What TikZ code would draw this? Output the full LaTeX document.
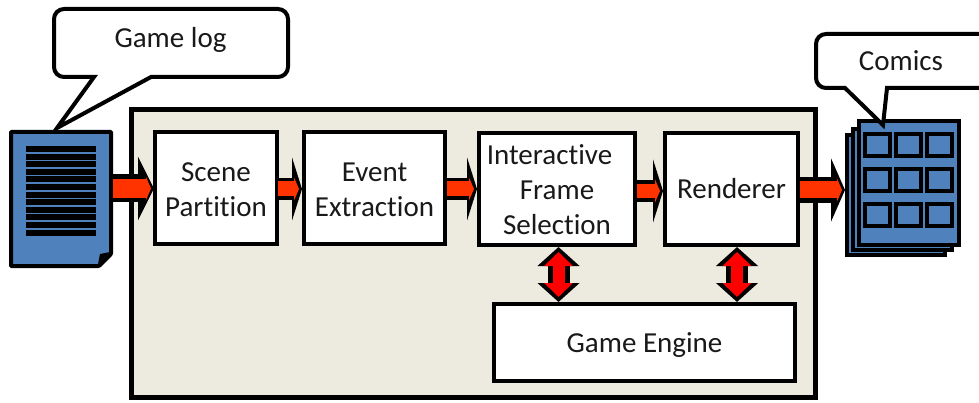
\documentclass[tikz,border=0pt]{standalone}
\usepackage{fontspec}
\setmainfont[Ligatures=NoCommon]{Carlito}
\usetikzlibrary{arrows.meta,calc}
\definecolor{panelbg}{HTML}{EDEBE0}
\definecolor{docblue}{HTML}{4F81BD}
\definecolor{arrowred}{HTML}{FF3300}
\definecolor{dblred}{HTML}{FF0000}
\tikzset{
  stagebox/.style={draw=black,fill=white,line width=4pt,rectangle,inner sep=0pt,align=center,font=\fontsize{29}{35}\selectfont,text=black!90},
  labeltext/.style={inner sep=0pt,font=\fontsize{29}{35}\selectfont,text=black!90},
  heavy/.style={draw=black,line width=4pt,line join=miter},
  fwdblack/.style 2 args={draw=black,line width=#1,-{Triangle[length=#2,width=63pt]}},
  fwdred/.style={draw=arrowred,line width=#1,-{Triangle[length=5pt,width=23pt]}},
  dblblack/.style={draw=black,line width=22pt,{Triangle[length=19pt,width=41pt]}-{Triangle[length=19pt,width=41pt]}},
  dblfill/.style={draw=dblred,line width=12pt,{Triangle[length=14pt,width=28pt]}-{Triangle[length=14pt,width=28pt]}}
}
% #1 start, #2 end, #3 black width, #4 red width, #5 head length
\newcommand{\fwdarrow}[5]{%
  \draw[fwdblack={#3pt}{#5pt}] (#1) -- (#2);
  \draw[fwdred=#4pt] (#1) -- ($(#2)+(-3pt,0)$);
}
\begin{document}
\begin{tikzpicture}[x=1pt,y=-1pt]
\useasboundingbox (0,0) rectangle (979,403);
% main panel
\node[draw=black,fill=panelbg,line width=5pt,minimum width=684pt,minimum height=288pt,inner sep=0pt] (panel) at (473.5,253.5) {};
% document
\draw[heavy,fill=docblue,rounded corners=0.8pt] (11,132) -- (111,132) -- (111,254) -- (99,266) -- (11,266) -- cycle;
\fill[black] (98,264) -- (100,254) -- (110,252) -- (100,262) -- cycle;
\foreach \i in {0,...,11} \fill[black] (26,{146+\i*7.6}) rectangle (96,{146+\i*7.6+6.1});
\node[minimum width=100pt,minimum height=134pt,inner sep=0pt] (doc) at (61,199) {};
% game log callout
\draw[heavy,fill=white] (57,128) -- (94,77) [rounded corners=10pt] -- (54,77) -- (54,9) -- (288,9) -- (288,77) [sharp corners] -- (151,77) -- cycle;
\node[labeltext] (gamelog) at (170.5,40) {Game log};
% stages
\node[stagebox,minimum width=122pt,minimum height=112pt] (scene) at (216,188) {\rule{0pt}{22pt}Scene\\Partition};
\node[stagebox,minimum width=141pt,minimum height=112pt] (event) at (374.5,188) {\rule{0pt}{22pt}Event\\Extraction};
\node[stagebox,minimum width=156pt,minimum height=112pt] (frame) at (557,189) {\rule{0pt}{22pt}Interactive\hspace*{15pt}\\Frame\\Selection};
\node[stagebox,minimum width=133pt,minimum height=112pt] (render) at (731.5,189) {Renderer};
\node[stagebox,minimum width=301pt,minimum height=77pt] (engine) at (644.5,342.5) {\rule{0pt}{24pt}Game Engine};
% comics stack
\node[draw=black,fill=docblue,line width=4pt,minimum width=98pt,minimum height=120pt,inner sep=0pt] (backpage) at (896,195) {};
\draw[heavy,fill=docblue] (853,129) rectangle (952,250);
\draw[heavy,fill=docblue] (859,121) rectangle (959,245);
\foreach \yy in {134,169,204}
  \foreach \xx in {865,896,927}
    \draw[draw=black,fill=docblue,line width=4pt] (\xx,\yy) rectangle ++(25,22.5);
% comics callout
\draw[heavy,fill=white] (883,125) -- (845,88) [rounded corners=10pt] -- (816,88) -- (816,34) -- (1000,34) [sharp corners] -- (1000,88) -- (887,88) -- cycle;
\node[labeltext] (comicslabel) at (901,61) {Comics};
% forward arrows
\coordinate (a1s) at (113,188.5);
\coordinate (a1e) at ($(scene.west |- a1s)+(1,0)$);
\coordinate (a2s) at (278,189);
\coordinate (a2e) at (event.west |- a2s);
\coordinate (a3s) at (447,189);
\coordinate (a3e) at (frame.west |- a3s);
\coordinate (a4s) at (637,191);
\coordinate (a4e) at (render.west |- a4s);
\coordinate (a5s) at (800,190);
\coordinate (a5e) at (backpage.west |- a5s);
\fwdarrow{a1s}{a1e}{28}{19}{16}
\fwdarrow{a2s}{a2e}{22}{15}{10}
\fwdarrow{a3s}{a3e}{22}{15}{10}
\fwdarrow{a4s}{a4e}{22}{14}{10}
\fwdarrow{a5s}{a5e}{26}{17}{14}
% double arrows
\coordinate (d1a) at (558.5,247);
\coordinate (d1b) at (d1a |- engine.north);
\coordinate (d2a) at (737,247);
\coordinate (d2b) at (d2a |- engine.north);
\draw[dblblack] (d1a) -- (d1b);
\draw[dblfill] ($(d1a)+(0,5)$) -- ($(d1b)+(0,-5)$);
\draw[dblblack] (d2a) -- (d2b);
\draw[dblfill] ($(d2a)+(0,5)$) -- ($(d2b)+(0,-5)$);
\end{tikzpicture}
\end{document}
